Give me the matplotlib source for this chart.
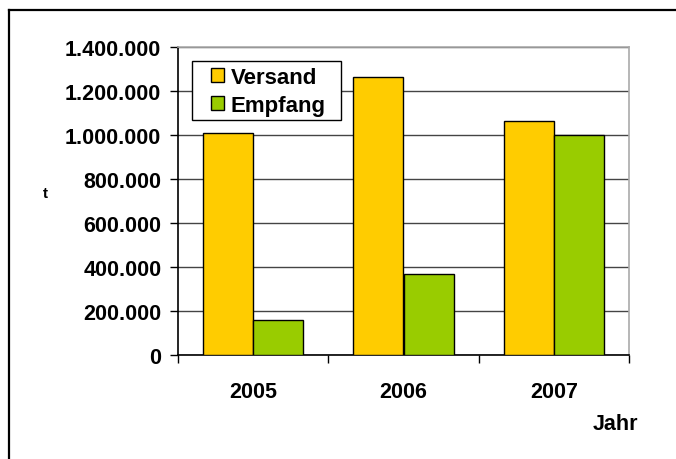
import numpy as np
import matplotlib
matplotlib.use("Agg")
from matplotlib import pyplot as plt
from matplotlib.lines import Line2D
from matplotlib.patches import Rectangle
from matplotlib.ticker import FuncFormatter

years = ["2005", "2006", "2007"]
versand = [1010000, 1262000, 1064000]
empfang = [160000, 368000, 998000]

plt.rcParams["font.family"] = ["Liberation Sans", "DejaVu Sans"]
plt.rcParams["font.weight"] = "bold"

fig = plt.figure(figsize=(6.76, 4.60), dpi=100)
ax = fig.add_axes([178 / 676, 104 / 460, 451 / 676, 308 / 460])

x = np.arange(len(years))
w = 1 / 3
ax.bar(x - w / 2, versand, w, color="#FFCC00", edgecolor="black", linewidth=1.0,
       label="Versand", zorder=3)
ax.bar(x + w / 2, empfang, w, color="#99CC00", edgecolor="black", linewidth=1.0,
       label="Empfang", zorder=3)

ax.set_xlim(-0.5, 2.5)
ax.set_ylim(0, 1400000)
ax.set_yticks(np.arange(0, 1400001, 200000))
ax.yaxis.set_major_formatter(FuncFormatter(lambda v, p: f"{int(v):,}".replace(",", ".")))
ax.grid(axis="y", color="#444444", linewidth=1.0, zorder=0)

# ticks between categories, labels centred on categories
ax.set_xticks([-0.5, 0.5, 1.5, 2.5])
ax.set_xticklabels([])
ax.set_xticks(x, minor=True)
ax.set_xticklabels(years, minor=True)
ax.tick_params(axis="x", which="major", length=6, width=1, direction="out")
ax.tick_params(axis="x", which="minor", length=0, pad=19, labelsize=15.5)
ax.tick_params(axis="y", length=6, width=1, direction="out", pad=6, labelsize=15.5)

ax.spines["left"].set_color("black")
ax.spines["bottom"].set_color("black")
ax.spines["top"].set_color("#aaaaaa")
ax.spines["right"].set_color("#aaaaaa")
for s in ax.spines.values():
    s.set_linewidth(1.2)

fig.text(45 / 676, 1 - 194 / 460, "t", ha="center", va="center", fontsize=11, fontweight="bold")
fig.text(615 / 676, 1 - 425 / 460, "Jahr", ha="center", va="center", fontsize=15.5, fontweight="bold")

# legend box drawn separately so it can be wider than the entries
ax.add_patch(Rectangle((14 / 451, 235 / 308), 149 / 451, 59 / 308, transform=ax.transAxes,
                       facecolor="white", edgecolor="black", linewidth=1.0, zorder=4))
leg = ax.legend(loc="upper left", bbox_to_anchor=(33 / 451, 1 - 20 / 308), fontsize=16,
                frameon=False, handlelength=0.6, handleheight=0.6, handletextpad=0.3,
                borderpad=0, labelspacing=0.32, borderaxespad=0)
leg.set_zorder(5)

# outer chart frame (extends past the right and bottom edges)
fig.add_artist(Line2D([9 / 676, 1.0], [1 - 10.5 / 460, 1 - 10.5 / 460],
                      transform=fig.transFigure, color="black", linewidth=1.6))
fig.add_artist(Line2D([9 / 676, 9 / 676], [0.0, 1 - 10.5 / 460],
                      transform=fig.transFigure, color="black", linewidth=1.6))

fig.savefig("out.png", dpi=100)
